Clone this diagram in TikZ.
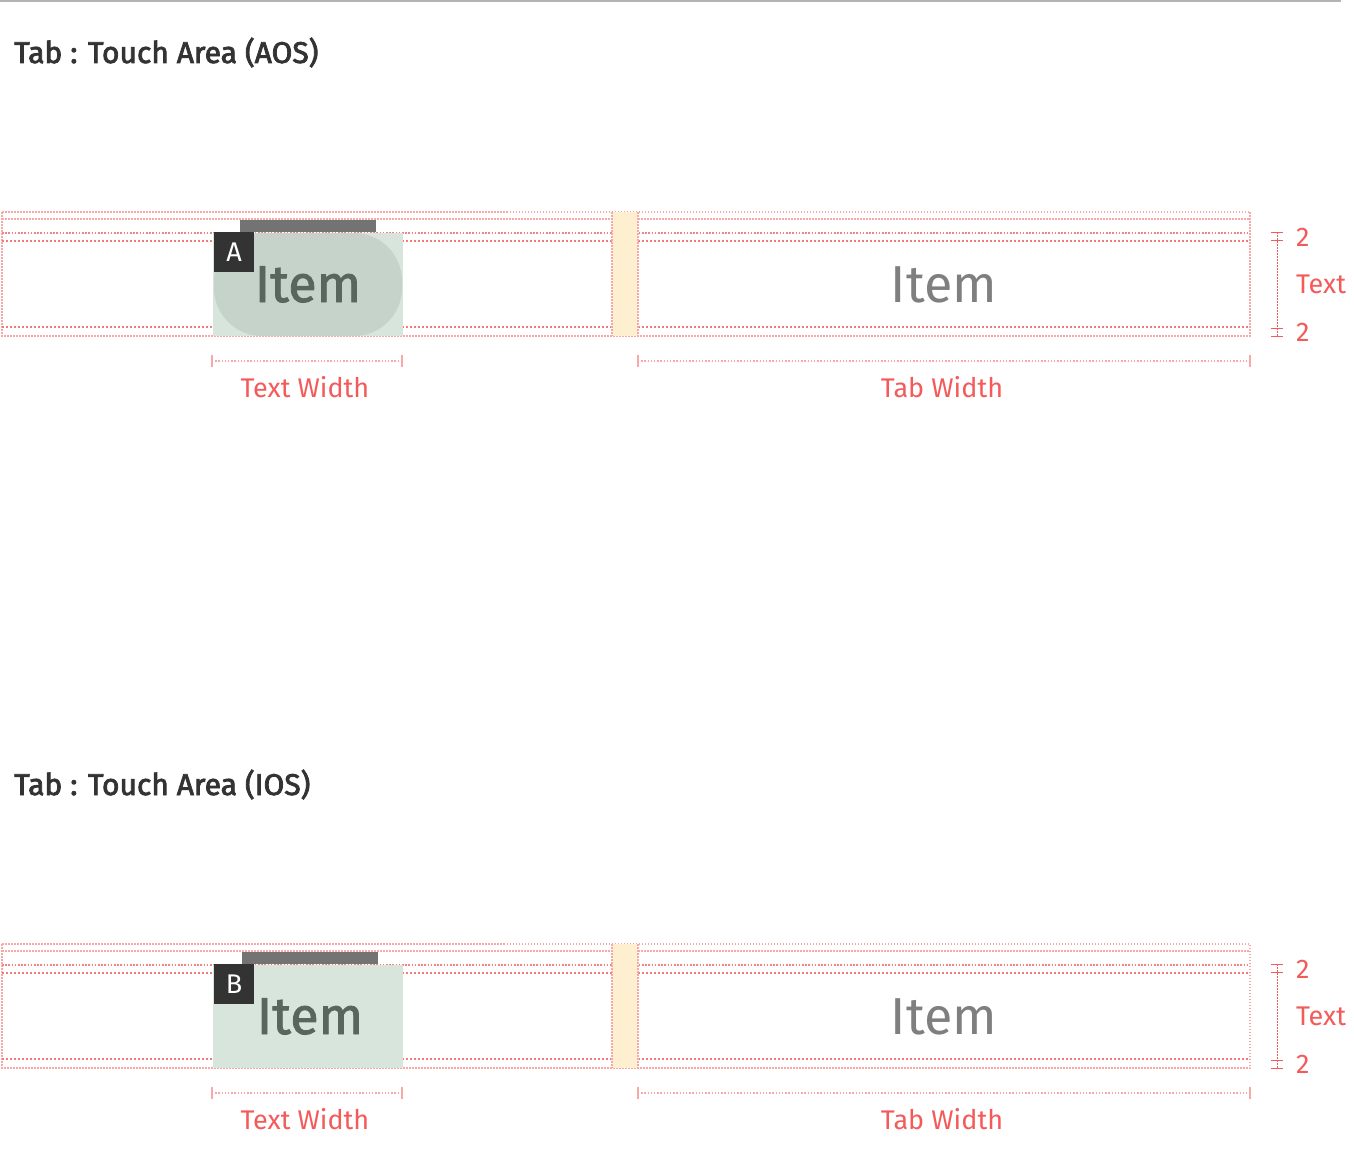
\documentclass[tikz,border=0pt]{standalone}
\usepackage{fontspec}
\setmainfont{Fira Sans}
\newfontfamily\medfont{Fira Sans}[FakeBold=1.6]
\newfontfamily\headfont{Fira Sans}[FakeBold=2.6]
\definecolor{redtxt}{HTML}{F55A5A}
\definecolor{pinkL}{HTML}{F9A8A8}
\definecolor{redM}{HTML}{F27A7A}
\definecolor{yel}{HTML}{FDEFD0}
\definecolor{grn}{HTML}{D7E5DD}
\definecolor{pillc}{HTML}{C5D3CB}
\definecolor{barc}{HTML}{737373}
\definecolor{boxc}{HTML}{333333}
\definecolor{itemAc}{HTML}{58665D}
\definecolor{itemBc}{HTML}{7F7F7F}
\definecolor{titlec}{HTML}{333333}
\definecolor{topline}{HTML}{B3B3B3}
\tikzset{
  lightdot/.style={draw=pinkL, line width=1.8pt, dash pattern=on 1.5pt off 1.5pt},
  middot/.style={draw=redM!80!pinkL, line width=1.3pt, dash pattern=on 1.6pt off 1.6pt},
  darkdot/.style={draw=redM, line width=1.1pt, dash pattern=on 2pt off 2pt},
  dimline/.style={draw=pinkL, line width=1.5pt, dash pattern=on 1.4pt off 1.8pt},
  dimtick/.style={draw=pinkL, line width=2pt},
  rtick/.style={draw=redtxt, line width=1pt},
  rline/.style={draw=redtxt, line width=0.8pt, dash pattern=on 1.5pt off 1.5pt},
  redlabel/.style={text=redtxt, font=\fontsize{27}{27}\selectfont, inner sep=0pt},
  titletext/.style={text=titlec, font=\headfont\fontsize{30}{30}\selectfont, inner sep=0pt, anchor=base west},
  itemA/.style={text=itemAc, font=\medfont\fontsize{52}{52}\selectfont, inner sep=0pt, anchor=base},
  itemB/.style={text=itemBc, font=\fontsize{52}{52}\selectfont, inner sep=0pt, anchor=base},
  letterbox/.style={fill=boxc, text=white, minimum size=40pt, inner sep=0pt, font=\fontsize{27}{27}\selectfont},
}
\newcommand{\tabarea}[4]{%
  % #1 suffix, #2 letter, #3 x shift of bar/item, #4 extra drawing (pill)
  \draw[lightdot] (2,212) rectangle (1250,336);
  \draw[lightdot] (2,219) -- (1250,219);
  \draw[middot] (2,233) -- (1250,233);
  \draw[darkdot] (2,241) -- (1250,241);
  \draw[darkdot] (2,327) -- (1250,327);
  \fill[yel] (612,212) rectangle (638,336);
  \draw[lightdot] (612,212) -- (612,336) (638,212) -- (638,336);
  \fill[grn] (213,233) rectangle (403,336);
  #4
  \fill[barc] (240+#3,220) rectangle (376+#3,232);
  \node[letterbox] (box#1) at (234,252) {#2};
  \node[itemA] (itemA#1) at (308+#3,302) {Item};
  \node[itemB] (itemB#1) at (944,302) {Item};
  % text width dimension
  \coordinate (twl#1) at (212,361);
  \coordinate (twr#1) at (402,361);
  \draw[dimline] (twl#1) -- (twr#1);
  \draw[dimtick] ([yshift=-6pt]twl#1) -- ([yshift=6pt]twl#1);
  \draw[dimtick] ([yshift=-6pt]twr#1) -- ([yshift=6pt]twr#1);
  \node[redlabel, anchor=base] (twlab#1) at (305,397) {Text Width};
  % tab width dimension
  \coordinate (tbl#1) at (638,361);
  \coordinate (tbr#1) at (1250,361);
  \draw[dimline] (tbl#1) -- (tbr#1);
  \draw[dimtick] ([yshift=-6pt]tbl#1) -- ([yshift=6pt]tbl#1);
  \draw[dimtick] ([yshift=-6pt]tbr#1) -- ([yshift=6pt]tbr#1);
  \node[redlabel, anchor=base] (tblab#1) at (942,397) {Tab Width};
  % right vertical dimension
  \coordinate (vt#1) at (1277,232);
  \coordinate (vb#1) at (1277,336);
  \draw[rline] (vt#1) -- (vb#1);
  \foreach \yy in {232,240,328,336} {\draw[rtick] (1271,\yy) -- (1283,\yy);}
  \node[redlabel, anchor=base west] (two1#1) at (1296,246) {2};
  \node[redlabel, anchor=base west] (txt#1) at (1296,293) {Text};
  \node[redlabel, anchor=base west] (two2#1) at (1296,341) {2};
}
\begin{document}
\begin{tikzpicture}[x=1pt,y=-1pt]
\useasboundingbox (0,0) rectangle (1354,1164);
\fill[white] (0,0) rectangle (1354,1164);
\draw[topline, line width=2pt] (0,1) -- (1341,1);
\node[titletext] (title1) at (14,63) {Tab : Touch Area (AOS)};
\tabarea{a}{A}{0}{\fill[pillc, rounded corners=48pt] (214,233) rectangle (402,336);}
\node[titletext] (title2) at (14,795) {Tab : Touch Area (IOS)};
\begin{scope}[yshift=-732pt]
\tabarea{b}{B}{2}{}
\end{scope}
\end{tikzpicture}
\end{document}
